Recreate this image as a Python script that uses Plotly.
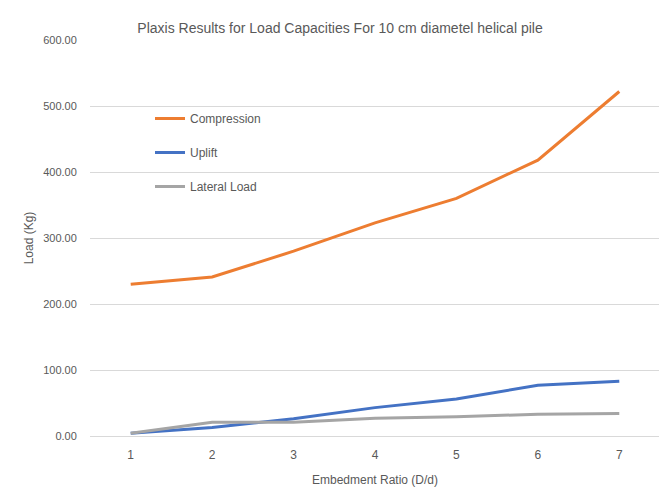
import plotly.graph_objects as go

categories = ["1", "2", "3", "4", "5", "6", "7"]
compression = [230, 241, 280, 323, 360, 418, 522]
uplift = [4, 13, 26, 43, 56, 77, 83]
lateral = [4, 21, 21, 27, 29, 33, 34]
y_ticks = [0, 100, 200, 300, 400, 500, 600]
y_tick_labels = ["0.00", "100.00", "200.00", "300.00", "400.00", "500.00", "600.00"]

FONT = "Liberation Sans, Arial, sans-serif"
GREY_TXT = "#595959"

fig = go.Figure()
series = [
    ("Compression", compression, "#ED7D31"),
    ("Uplift", uplift, "#4472C4"),
    ("Lateral Load", lateral, "#A5A5A5"),
]
for name, vals, col in series:
    fig.add_trace(go.Scatter(
        x=categories, y=vals, name=name, mode="lines",
        line=dict(color=col, width=3), legendgroup=name,
    ))

# page body has an 8px margin, so the figure is laid out 8px up/left
OFF = 8
W, H = 667 - OFF, 503 - OFF
L, T = 90 - OFF, 40 - OFF
R = W - (660 - OFF)
B = H - (436 - OFF)
pw, ph = W - L - R, H - T - B

fig.update_layout(
    width=W, height=H,
    margin=dict(l=L, r=R, t=T, b=B),
    paper_bgcolor="white", plot_bgcolor="white",
    font=dict(family=FONT, color=GREY_TXT, size=12),
    title=dict(
        text="Plaxis Results for Load Capacities For 10 cm diametel helical pile",
        x=(340 - OFF) / W, xref="container", xanchor="center",
        y=1 - (28 - OFF) / H, yref="container", yanchor="middle",
        font=dict(size=14, color=GREY_TXT, family=FONT),
    ),
    legend=dict(
        x=(150 - 90) / pw, xanchor="left",
        y=(436 - 104) / ph, yanchor="top",
        bgcolor="rgba(0,0,0,0)",
        font=dict(size=12, color=GREY_TXT, family=FONT),
        tracegroupgap=15, itemwidth=30,
    ),
    showlegend=True,
    xaxis=dict(
        type="category", range=[-0.5, 6.5],
        showgrid=False, showline=False, zeroline=False,
        ticks="outside", ticklen=8, tickcolor="rgba(0,0,0,0)",
        tickfont=dict(size=12, color=GREY_TXT),
        title=dict(text="Embedment Ratio (D/d)", font=dict(size=12, color=GREY_TXT), standoff=14),
    ),
    yaxis=dict(
        range=[0, 600], tickvals=y_ticks, ticktext=y_tick_labels,
        showgrid=True, gridcolor="#D9D9D9", gridwidth=1,
        zeroline=True, zerolinecolor="#D9D9D9", zerolinewidth=1,
        showline=False,
        ticks="outside", ticklen=10, tickcolor="rgba(0,0,0,0)",
        tickfont=dict(size=11, color=GREY_TXT),
        title=dict(text="Load (Kg)", font=dict(size=12, color=GREY_TXT), standoff=6),
    ),
)

fig.write_html("out.html")
